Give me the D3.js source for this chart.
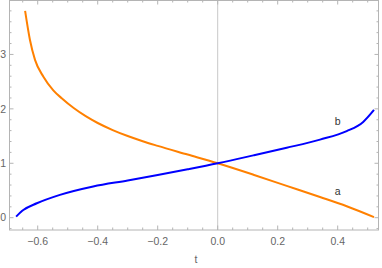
<!DOCTYPE html>
<html>
<head>
<meta charset="utf-8">
<script src="https://cdn.jsdelivr.net/npm/d3@7"></script>
<style>
  body { margin: 0; background: #fff; }
  text { font-family: "Liberation Sans", Arial, sans-serif; }
</style>
</head>
<body>
<svg id="chart" width="382" height="268"></svg>
<script>
// curve a (orange) as [t, value]
const seriesA = [
  [-0.642, 3.80], [-0.626, 3.27], [-0.609, 2.90], [-0.581, 2.59],
  [-0.548, 2.34], [-0.52, 2.195], [-0.48, 2.015], [-0.44, 1.865],
  [-0.40, 1.74], [-0.35, 1.61], [-0.30, 1.50], [-0.25, 1.405],
  [-0.20, 1.32], [-0.10, 1.16], [0, 1.0], [0.119, 0.79],
  [0.23, 0.585], [0.341, 0.38], [0.43, 0.21], [0.521, 0.01]
];
// curve b (blue)
const seriesB = [
  [-0.672, 0.02], [-0.648, 0.14], [-0.603, 0.265], [-0.526, 0.42],
  [-0.415, 0.575], [-0.30, 0.685], [-0.20, 0.785], [-0.10, 0.89],
  [0, 1.0], [0.119, 1.145], [0.23, 1.285], [0.341, 1.435],
  [0.43, 1.59], [0.485, 1.76], [0.521, 1.98]
];
const xTicks = [-0.6, -0.4, -0.2, 0.0, 0.2, 0.4];
const yTicks = [0, 1, 2, 3];
const labels = [
  { name: "a", t: 0.4, v: 0.41 },
  { name: "b", t: 0.4, v: 1.71 }
];

const svg = d3.select("#chart");
const mLeft = 9, mRight = 379, mTop = 0, mBottom = 230;

const x = d3.scaleLinear().domain([-0.6957, 0.5377]).range([mLeft, mRight]);
const y = d3.scaleLinear().domain([-0.226, 4.0]).range([mBottom, mTop]);

const frameColor = "#b4b4b4";
const fmt = d => (d < 0 ? "\u2212" : "") + Math.abs(d).toFixed(1);

// minor ticks
const xMinor = d3.range(-0.65, 0.5376, 0.05).filter(d => !xTicks.some(t => Math.abs(t - d) < 1e-6));
const yMinor = d3.range(-0.2, 3.99, 0.2).filter(d => !yTicks.some(t => Math.abs(t - d) < 1e-6));

// zero line
svg.append("line")
  .attr("x1", x(0)).attr("x2", x(0))
  .attr("y1", mTop).attr("y2", mBottom)
  .attr("stroke", "#c8c8c8").attr("stroke-width", 1);

const ticks = svg.append("g").attr("stroke", frameColor).attr("stroke-width", 1);

xTicks.forEach(d => {
  ticks.append("line").attr("x1", x(d)).attr("x2", x(d)).attr("y1", mBottom).attr("y2", mBottom - 4.5);
  ticks.append("line").attr("x1", x(d)).attr("x2", x(d)).attr("y1", mTop).attr("y2", mTop + 4.5);
});
xMinor.forEach(d => {
  ticks.append("line").attr("x1", x(d)).attr("x2", x(d)).attr("y1", mBottom).attr("y2", mBottom - 2.5);
  ticks.append("line").attr("x1", x(d)).attr("x2", x(d)).attr("y1", mTop).attr("y2", mTop + 2.5);
});
yTicks.forEach(d => {
  ticks.append("line").attr("x1", mLeft).attr("x2", mLeft + 4.5).attr("y1", y(d)).attr("y2", y(d));
  ticks.append("line").attr("x1", mRight).attr("x2", mRight - 4.5).attr("y1", y(d)).attr("y2", y(d));
});
yMinor.forEach(d => {
  ticks.append("line").attr("x1", mLeft).attr("x2", mLeft + 2.5).attr("y1", y(d)).attr("y2", y(d));
  ticks.append("line").attr("x1", mRight).attr("x2", mRight - 2.5).attr("y1", y(d)).attr("y2", y(d));
});

// frame
svg.append("rect")
  .attr("x", mLeft + 0.5).attr("y", mTop + 0.5)
  .attr("width", mRight - mLeft - 1).attr("height", mBottom - mTop - 0.5)
  .attr("fill", "none").attr("stroke", frameColor).attr("stroke-width", 1);

// tick labels
svg.append("g").selectAll("text")
  .data(xTicks).join("text")
  .attr("x", d => x(d)).attr("y", mBottom + 15)
  .attr("text-anchor", "middle")
  .attr("font-size", 10.5).attr("fill", "#666")
  .text(fmt);

svg.append("g").selectAll("text")
  .data(yTicks).join("text")
  .attr("x", 6).attr("y", d => y(d) + 3.8)
  .attr("text-anchor", "end")
  .attr("font-size", 10.5).attr("fill", "#666")
  .text(d => d);

svg.append("text")
  .attr("x", (mLeft + mRight) / 2 + 2).attr("y", 263)
  .attr("text-anchor", "middle")
  .attr("font-size", 10.5).attr("fill", "#666")
  .text("t");

// curves
const line = d3.line()
  .x(d => x(d[0]))
  .y(d => y(d[1]))
  .curve(d3.curveMonotoneX);

svg.append("path")
  .datum(seriesA)
  .attr("d", line)
  .attr("fill", "none")
  .attr("stroke", "#ff8000")
  .attr("stroke-width", 2);

svg.append("path")
  .datum(seriesB)
  .attr("d", line)
  .attr("fill", "none")
  .attr("stroke", "#0000ff")
  .attr("stroke-width", 2);

// curve labels
svg.append("g").selectAll("text")
  .data(labels).join("text")
  .attr("x", d => x(d.t)).attr("y", d => y(d.v))
  .attr("text-anchor", "middle")
  .attr("font-size", 10.5).attr("fill", "#333")
  .text(d => d.name);
</script>
</body>
</html>
